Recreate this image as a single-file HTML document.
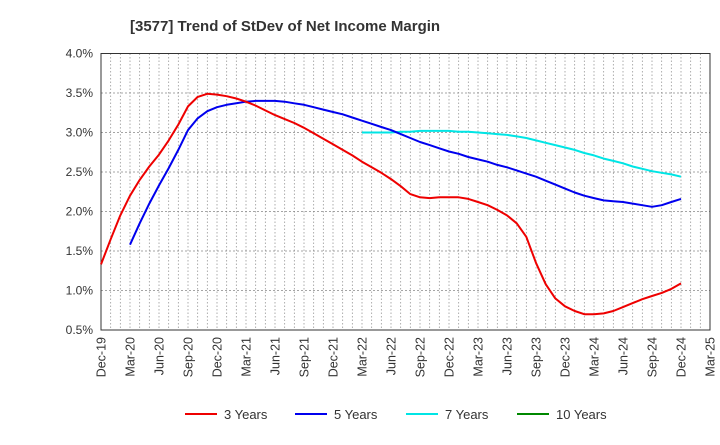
<!DOCTYPE html>
<html><head><meta charset="utf-8"><style>
body{margin:0;background:#fff;font-family:"Liberation Sans",Arial,sans-serif}
</style></head><body>
<svg id="c" width="720" height="440" xmlns="http://www.w3.org/2000/svg">
<text x="130" y="31" font-size="15" font-weight="bold" fill="#333">[3577]  Trend of StDev of Net Income Margin</text>
</svg>
<script>
const xLabels=["Dec-19","Mar-20","Jun-20","Sep-20","Dec-20","Mar-21","Jun-21","Sep-21","Dec-21","Mar-22","Jun-22","Sep-22","Dec-22","Mar-23","Jun-23","Sep-23","Dec-23","Mar-24","Jun-24","Sep-24","Dec-24","Mar-25"];
const yTicks=[0.5,1.0,1.5,2.0,2.5,3.0,3.5,4.0];
const s3=[1.33,1.65,1.95,2.2,2.4,2.57,2.72,2.9,3.1,3.33,3.45,3.49,3.48,3.46,3.43,3.39,3.34,3.28,3.22,3.17,3.12,3.06,2.99,2.92,2.85,2.78,2.71,2.63,2.56,2.49,2.41,2.32,2.22,2.18,2.17,2.18,2.18,2.18,2.16,2.12,2.08,2.02,1.95,1.85,1.68,1.35,1.08,0.9,0.8,0.74,0.7,0.7,0.71,0.74,0.79,0.84,0.89,0.93,0.97,1.02,1.09];
const s5Start=3;
const s5=[1.58,1.85,2.1,2.33,2.55,2.78,3.03,3.18,3.27,3.32,3.35,3.37,3.39,3.4,3.4,3.4,3.39,3.37,3.35,3.32,3.29,3.26,3.23,3.19,3.15,3.11,3.07,3.03,2.98,2.93,2.88,2.84,2.8,2.76,2.73,2.69,2.66,2.63,2.59,2.56,2.52,2.48,2.44,2.39,2.34,2.29,2.24,2.2,2.17,2.14,2.13,2.12,2.1,2.08,2.06,2.08,2.12,2.16];
const s7Start=27;
const s7=[3.0,3.0,3.0,3.0,3.01,3.01,3.02,3.02,3.02,3.02,3.01,3.01,3.0,2.99,2.98,2.97,2.95,2.93,2.9,2.87,2.84,2.81,2.78,2.74,2.71,2.67,2.64,2.61,2.57,2.54,2.51,2.49,2.47,2.44];
const L=101,R=710,T=53.5,B=330;
const ns="http://www.w3.org/2000/svg",svg=document.getElementById('c');
const xm=i=>L+(R-L)*i/63;
const yv=v=>B-(v-0.5)/3.5*(B-T);
function mk(t,a,p){const e=document.createElementNS(ns,t);for(const k in a)e.setAttribute(k,a[k]);(p||svg).appendChild(e);return e;}
const grid=mk('g',{});


for(let i=1;i<63;i++){const x=xm(i);mk('line',{x1:x,x2:x,y1:T,y2:B,stroke:'#999','stroke-width':0.8,'stroke-dasharray':'1.5,2'},grid);}
yTicks.forEach(v=>{const y=yv(v);
 if(v>0.5&&v<4)mk('line',{x1:L,x2:R,y1:y,y2:y,stroke:'#888','stroke-width':0.8,'stroke-dasharray':'2,2'},grid);
 const t=mk('text',{x:L-8,y:y+4,'text-anchor':'end','font-size':12,fill:'#333'});t.textContent=v.toFixed(1)+'%';
 
 
});
const frame=mk('rect',{x:L,y:T,width:R-L,height:B-T,fill:'none',stroke:'#333','stroke-width':1});


xLabels.forEach((s,i)=>{const x=xm(i*3);
 const t=mk('text',{transform:`translate(${x+4.5},${B+7}) rotate(-90)`,'text-anchor':'end','font-size':12.5,fill:'#333'});t.textContent=s;
 
 
});
function line(arr,start,col,name){const p=arr.map((v,i)=>xm(start+i).toFixed(1)+','+yv(v).toFixed(1)).join(' ');
 const e=mk('polyline',{points:p,fill:'none',stroke:col,'stroke-width':2,'stroke-linejoin':'round'});
 
 }
line(s7,s7Start,'#00e5e5','series-7-years');
line(s5,s5Start,'#0000ee','series-5-years');
line(s3,0,'#ee0000','series-3-years');
[['3 Years','#ee0000',185],['5 Years','#0000ee',295],['7 Years','#00e5e5',406],['10 Years','#008800',517]].forEach(([n,c,x])=>{
 const g=mk('g',{});
 
 
 mk('line',{x1:x,x2:x+32,y1:414,y2:414,stroke:c,'stroke-width':2},g);
 const t=mk('text',{x:x+39,y:419,'font-size':13,fill:'#333'},g);t.textContent=n;
});
</script>
</body></html>
